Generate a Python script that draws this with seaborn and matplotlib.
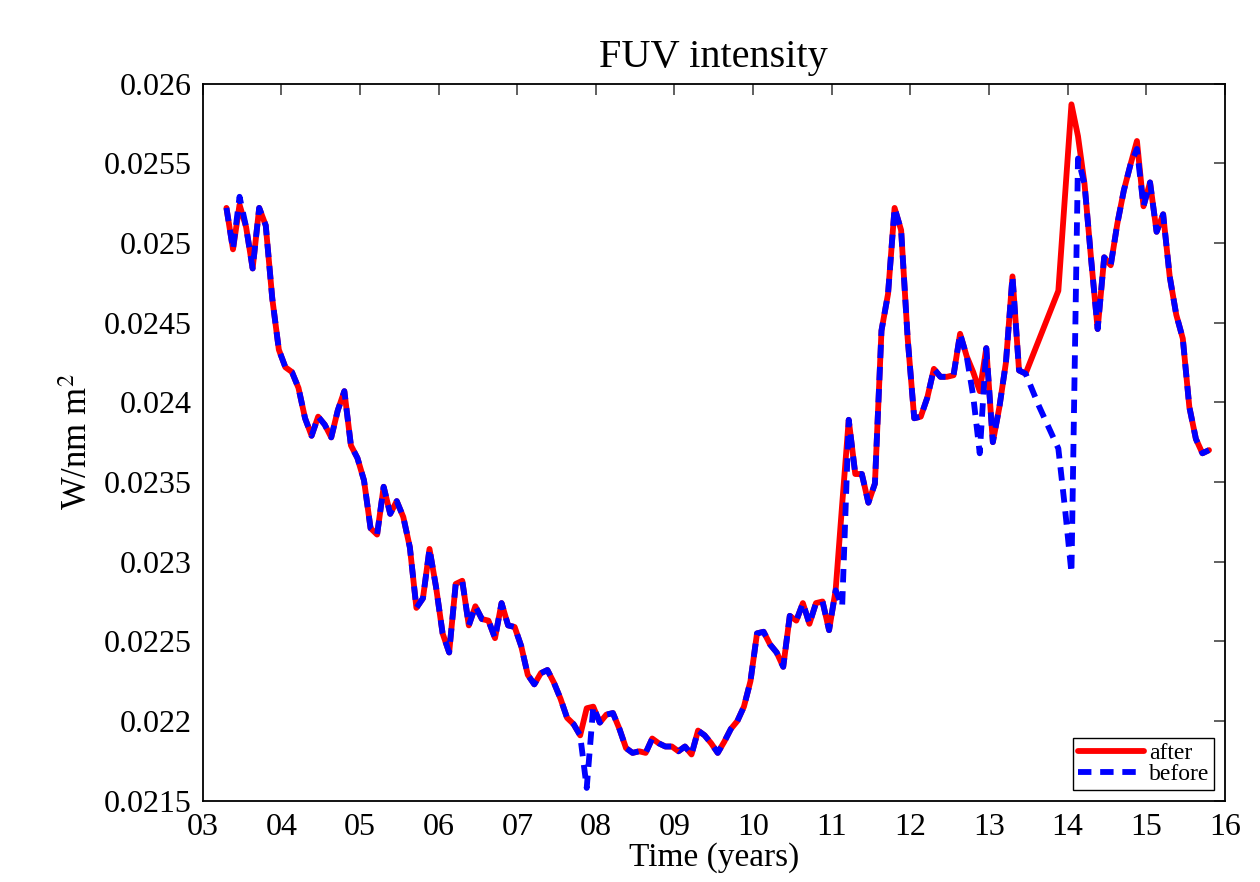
import numpy as np
import pandas as pd
import matplotlib
matplotlib.use("Agg")
import matplotlib.pyplot as plt
import seaborn as sns

nan = np.nan

# Time axis: monthly samples, years since 2000
years = 3.3 + np.arange(151) / 12.0

after = [
    0.02522, 0.02496, 0.02524, 0.02510, 0.02484, 0.02522, 0.02511, 0.02465, 0.02433, 0.02422,
    0.02419, 0.02409, 0.02390, 0.02379, 0.02391, 0.02386, 0.02378, 0.02395, 0.02407, 0.02373,
    0.02365, 0.02351, 0.02321, 0.02317, 0.02347, 0.02330, 0.02338, 0.02328, 0.02309, 0.02271,
    0.02277, 0.02308, 0.02284, 0.02255, 0.02243, 0.02286, 0.02288, 0.02260, 0.02272, 0.02264,
    0.02263, 0.02252, 0.02274, 0.02260, 0.02259, 0.02247, 0.02229, 0.02223, 0.02230, 0.02232,
    0.02224, 0.02214, 0.02202, 0.02198, 0.02191, 0.02208, 0.02209, 0.02199, 0.02204, 0.02205,
    0.02195, 0.02183, 0.02180, 0.02181, 0.02180, 0.02189, 0.02186, 0.02184, 0.02184, 0.02181,
    0.02184, 0.02179, 0.02194, 0.02191, 0.02186, 0.02180, 0.02187, 0.02195, 0.02200, 0.02209,
    0.02225, 0.02255, 0.02256, 0.02248, 0.02243, 0.02234, 0.02266, 0.02263, 0.02274, 0.02261,
    0.02274, 0.02275, 0.02257, 0.02282, 0.02336, 0.02389, 0.02355, 0.02355, 0.02337, 0.02349,
    0.02445, 0.02468, 0.02522, 0.02508, 0.02440, 0.02390, 0.02391, 0.02403, 0.02421, 0.02416,
    0.02416, 0.02417, 0.02443, 0.02429, 0.02419, 0.02407, 0.02434, 0.02375, 0.02397, 0.02425,
    0.02479, 0.02420, 0.02418, nan, nan, nan, nan, 0.02470, nan, 0.02587,
    0.02567, 0.02537, 0.02490, 0.02446, 0.02491, 0.02486, 0.02512, 0.02533, 0.02549, 0.02564,
    0.02523, 0.02538, 0.02507, 0.02518, 0.02479, 0.02455, 0.02440, 0.02397, 0.02377, 0.02368,
    0.02370,
]

before = [
    0.02522, 0.02496, 0.02529, 0.02510, 0.02484, 0.02522, 0.02511, 0.02465, 0.02433, 0.02422,
    0.02419, 0.02409, 0.02390, 0.02379, 0.02391, 0.02386, 0.02378, 0.02395, 0.02407, 0.02373,
    0.02365, 0.02351, 0.02321, 0.02317, 0.02347, 0.02330, 0.02338, 0.02328, 0.02309, 0.02271,
    0.02277, 0.02308, 0.02284, 0.02255, 0.02243, 0.02286, 0.02288, 0.02260, 0.02272, 0.02264,
    0.02263, 0.02252, 0.02274, 0.02260, 0.02259, 0.02247, 0.02229, 0.02223, 0.02230, 0.02232,
    0.02224, 0.02214, 0.02202, 0.02198, 0.02191, 0.02158, 0.02209, 0.02199, 0.02204, 0.02205,
    0.02195, 0.02183, 0.02180, 0.02181, 0.02180, 0.02189, 0.02186, 0.02184, 0.02184, 0.02181,
    0.02184, 0.02179, 0.02194, 0.02191, 0.02186, 0.02180, 0.02187, 0.02195, 0.02200, 0.02209,
    0.02225, 0.02255, 0.02256, 0.02248, 0.02243, 0.02234, 0.02266, 0.02263, 0.02274, 0.02261,
    0.02274, 0.02275, 0.02257, 0.02282, 0.02272, 0.02389, 0.02355, 0.02355, 0.02337, 0.02349,
    0.02445, 0.02468, 0.02522, 0.02508, 0.02440, 0.02390, 0.02391, 0.02403, 0.02421, 0.02416,
    0.02416, 0.02417, 0.02443, 0.02429, 0.02404, 0.02368, 0.02434, 0.02375, 0.02397, 0.02425,
    0.02479, 0.02420, 0.02418, 0.02408, 0.02398, 0.02389, 0.02380, 0.02371, 0.02334, 0.02293,
    0.02553, 0.02537, 0.02490, 0.02446, 0.02491, 0.02486, 0.02512, 0.02533, 0.02549, 0.02559,
    0.02523, 0.02538, 0.02507, 0.02518, 0.02479, 0.02455, 0.02440, 0.02397, 0.02377, 0.02368,
    0.02370,
]

x_ticks = [3, 4, 5, 6, 7, 8, 9, 10, 11, 12, 13, 14, 15, 16]
x_ticklabels = ["03", "04", "05", "06", "07", "08", "09", "10", "11", "12", "13", "14", "15", "16"]
y_ticks = [0.0215, 0.022, 0.0225, 0.023, 0.0235, 0.024, 0.0245, 0.025, 0.0255, 0.026]
y_ticklabels = ["0.0215", "0.022", "0.0225", "0.023", "0.0235", "0.024", "0.0245", "0.025", "0.0255", "0.026"]

sns.set_style("white")
plt.rcParams["font.family"] = ["Liberation Serif", "DejaVu Serif"]
plt.rcParams["mathtext.fontset"] = "stix"
plt.rcParams["text.color"] = "black"
plt.rcParams["axes.labelcolor"] = "black"

df_after = pd.DataFrame({"t": years, "v": after}).dropna()
df_before = pd.DataFrame({"t": years, "v": before}).dropna()

fig = plt.figure(figsize=(12.6, 8.82), dpi=100)
ax = fig.add_axes([0.161, 0.0922, 0.811, 0.8130])

sns.lineplot(data=df_after, x="t", y="v", ax=ax, color="#ff0000", lw=4.2,
             label="after", estimator=None, sort=False)
sns.lineplot(data=df_before, x="t", y="v", ax=ax, color="#0000ff", lw=4.2,
             label="before", estimator=None, sort=False)
ax.lines[1].set_dashes((2.3, 1.5))
ax.lines[1].set_dash_capstyle("butt")

ax.set_xlim(3, 16)
ax.set_ylim(0.0215, 0.026)
ax.set_xticks(x_ticks)
ax.set_xticklabels(x_ticklabels)
ax.set_yticks(y_ticks)
ax.set_yticklabels(y_ticklabels)

ax.tick_params(axis="both", direction="in", top=True, right=True, length=8,
               width=1.2, color="#444444", labelsize=23, labelcolor="black")
ax.tick_params(axis="x", pad=9)
ax.tick_params(axis="y", pad=8)
for s in ax.spines.values():
    s.set_color("black")
    s.set_linewidth(1.3)

ax.set_title("FUV intensity", fontsize=29, pad=12, color="black")
ax.set_xlabel("Time (years)", fontsize=24, labelpad=0)
ax.set_ylabel("W/nm m$^2$", fontsize=25, labelpad=6)

leg = ax.legend(loc="lower right", fontsize=17, frameon=True, fancybox=False,
                edgecolor="black", framealpha=1, handlelength=2.8,
                handletextpad=0.2, labelspacing=0.0, borderpad=0.2,
                borderaxespad=0.45)
leg.get_frame().set_linewidth(1.0)
for h in leg.get_lines():
    h.set_linewidth(4.2)

fig.savefig("out.png", dpi=100)
